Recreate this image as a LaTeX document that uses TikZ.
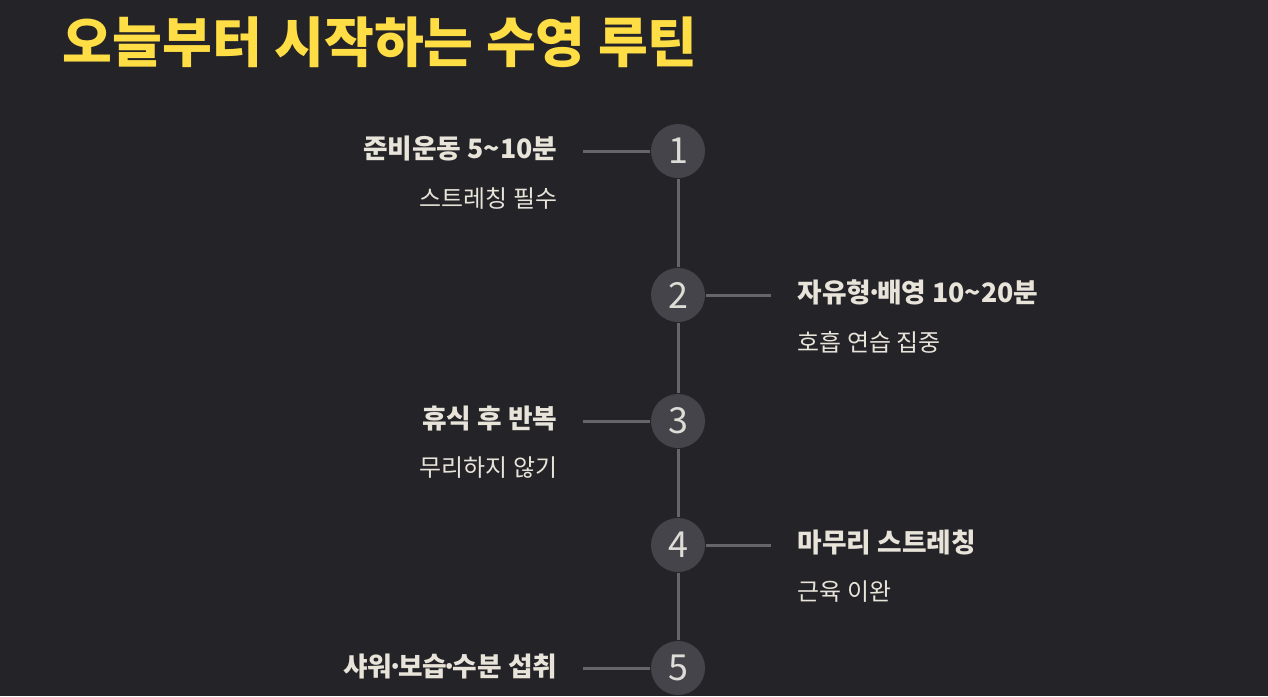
\documentclass[tikz,border=0pt]{standalone}
\usepackage{fontspec}
\setmainfont{Noto Sans CJK KR}
\usetikzlibrary{positioning}
\definecolor{bgdark}{HTML}{242328}
\definecolor{titleyellow}{HTML}{FFDD44}
\definecolor{dotgray}{HTML}{45444A}
\definecolor{stemgray}{HTML}{66656B}
\definecolor{textlight}{HTML}{E8E4DA}
\definecolor{digitlight}{HTML}{DEDCD6}
\newcommand{\middot}{\kern-0.2em·\kern-0.2em}
\tikzset{
  stepdot/.style={circle, fill=dotgray, minimum size=0.54cm, inner sep=0pt, text=digitlight, font=\fontsize{10.2}{12}\selectfont},
  steptitle/.style={text=textlight, inner sep=0pt, font=\bfseries\fontsize{7.6}{9}\selectfont},
  stepnote/.style={text=textlight, inner sep=0pt, font=\fontsize{6.8}{8}\selectfont},
  stem/.style={draw=stemgray, line width=0.85pt},
}

\begin{document}
\begin{tikzpicture}[x=0.01cm, y=-0.01cm]
    \fill[bgdark] (0,0) rectangle (1268,696);
    \useasboundingbox (0,0) rectangle (1268,696);
    \node[anchor=base west, inner sep=0pt, text=titleyellow, font=\bfseries\fontsize{15.4}{18}\selectfont] (title) at (62,62) {오늘부터 시작하는 수영 루틴};

    % timeline dots
    \node[stepdot] (d1) at (678,151) {1};
    \node[stepdot] (d2) at (678,295) {2};
    \node[stepdot] (d3) at (678,421) {3};
    \node[stepdot] (d4) at (678,545) {4};
    \node[stepdot] (d5) at (678,668) {5};
    \draw[stem] (d1) -- (d2);
    \draw[stem] (d2) -- (d3);
    \draw[stem] (d3) -- (d4);
    \draw[stem] (d4) -- (d5);

    % branch ends
    \coordinate (e1) at (583,151);
    \coordinate (e2) at (771,295);
    \coordinate (e3) at (583,421);
    \coordinate (e4) at (771,545);
    \coordinate (e5) at (583,668);
    \draw[stem] (e1) -- (d1);
    \draw[stem] (e2) -- (d2);
    \draw[stem] (e3) -- (d3);
    \draw[stem] (e4) -- (d4);
    \draw[stem] (e5) -- (d5);

    % step texts
    \node[steptitle, anchor=base east] (t1) at (558,158) {준비운동 5\textasciitilde 10분};
    \node[stepnote, anchor=base east] (n1) at (558,207) {스트레칭 필수};
    \node[steptitle, anchor=base west] (t2) at (797,302) {자유형\middot 배영 10\textasciitilde 20분};
    \node[stepnote, anchor=base west] (n2) at (797,351) {호흡 연습 집중};
    \node[steptitle, anchor=base east] (t3) at (558,428) {휴식 후 반복};
    \node[stepnote, anchor=base east] (n3) at (558,476) {무리하지 않기};
    \node[steptitle, anchor=base west] (t4) at (797,552) {마무리 스트레칭};
    \node[stepnote, anchor=base west] (n4) at (797,600) {근육 이완};
    \node[steptitle, anchor=base east] (t5) at (558,676) {샤워\middot 보습\middot 수분 섭취};
\end{tikzpicture}
\end{document}
